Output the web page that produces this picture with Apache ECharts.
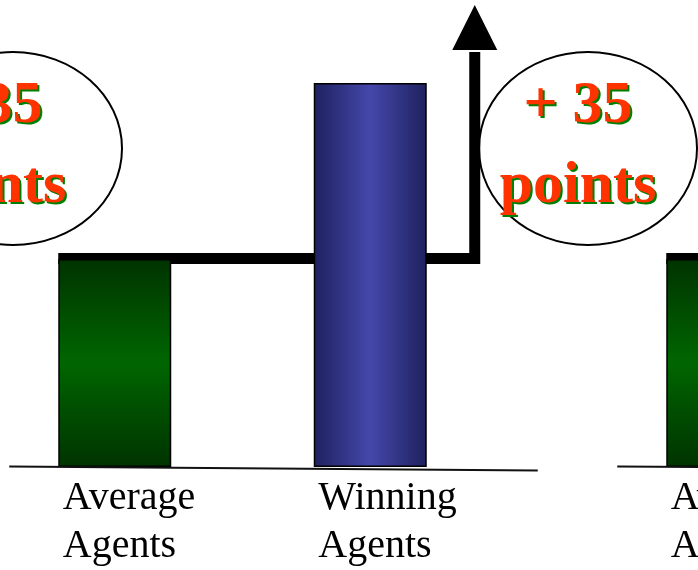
<!DOCTYPE html>
<html>
<head>
<meta charset="utf-8">
<script src="https://cdn.jsdelivr.net/npm/echarts@6/dist/echarts.min.js"></script>
<style>
html,body{margin:0;padding:0;background:#fff;}
#c{width:698px;height:570px;}
</style>
</head>
<body>
<div id="c"></div>
<script>
// ---- data ----
var categories = ['Average\nAgents', 'Winning\nAgents'];
var scores = [52, 96];            // bar heights (axis 0..100)
var calloutLines = ['+ 35', 'points'];

var chart = echarts.init(document.getElementById('c'), null, {renderer: 'canvas'});

var greenGrad = new echarts.graphic.LinearGradient(0, 0, 0, 1, [
  {offset: 0, color: '#003300'}, {offset: 0.5, color: '#006600'}, {offset: 1, color: '#003300'}
]);
var blueGrad = new echarts.graphic.LinearGradient(0, 0, 1, 0, [
  {offset: 0, color: '#1e215e'}, {offset: 0.5, color: '#4548aa'}, {offset: 1, color: '#1e215e'}
]);
var fills = [greenGrad, blueGrad];

function barData() {
  return scores.map(function (v, i) {
    return {value: v, itemStyle: {color: fills[i]}};
  });
}

var labelStyle = {
  show: true, position: 'bottom', distance: 7, align: 'left', offset: [-52, 0],
  formatter: '{b}', color: '#000', fontFamily: '"Liberation Serif", "Times New Roman", serif',
  fontSize: 40, lineHeight: 48
};

var grids = [
  {left: -13, width: 511, top: 67, height: 400, outerBoundsMode: 'none', containLabel: false},
  {left: 595, width: 511, top: 67, height: 400, outerBoundsMode: 'none', containLabel: false}
];

var option = {
  animation: false,
  backgroundColor: '#fff',
  grid: grids,
  xAxis: grids.map(function (g, i) {
    return {type: 'category', gridIndex: i, data: categories,
      axisLine: {show: false}, axisTick: {show: false}, axisLabel: {show: false}};
  }),
  yAxis: grids.map(function (g, i) {
    return {type: 'value', gridIndex: i, min: 0, max: 100, show: false, splitLine: {show: false}};
  }),
  series: grids.map(function (g, i) {
    return {type: 'bar', xAxisIndex: i, yAxisIndex: i, barWidth: 113, z: 5,
      itemStyle: {borderColor: '#000', borderWidth: 1.5},
      label: labelStyle, data: barData()};
  })
};
chart.setOption(option);

// ---- annotations derived from bar positions ----
var half = 56.5;
var gr = [];
function px(gi, idx, v) {
  return chart.convertToPixel({xAxisIndex: gi, yAxisIndex: gi}, [idx, v]);
}
for (var gi = 0; gi < 2; gi++) {
  var avg = px(gi, 0, scores[0]);
  var win = px(gi, 1, scores[1]);
  var base = px(gi, 0, 0);
  var lineY = avg[1] - 0.5;
  var shaftX = win[0] + half + 48;
  var headBase = win[1] - 33;
  var tip = win[1] - 78;
  gr.push({type: 'polyline', z: 1, silent: true,
    shape: {points: [[avg[0] - half, lineY], [shaftX, lineY], [shaftX, headBase + 2]]},
    style: {stroke: '#000', lineWidth: 11, fill: null, lineJoin: 'miter', lineCap: 'butt'}});
  gr.push({type: 'polygon', z: 1, silent: true,
    shape: {points: [[shaftX - 22.5, headBase], [shaftX, tip], [shaftX + 22.5, headBase]]},
    style: {fill: '#000'}});
  gr.push({type: 'line', z: 6, silent: true,
    shape: {x1: avg[0] - half - 49, y1: base[1] - 0.5, x2: win[0] + half + 111, y2: base[1] + 3.5},
    style: {stroke: '#111', lineWidth: 2}});
}

// callout ellipses with text
var callouts = [
  {cx: 13, cy: 148.5, tx: -12},
  {cx: 588, cy: 148.5, tx: 578}
];
var fontSpec = 'bold 60px "Liberation Serif", "Times New Roman", serif';
callouts.forEach(function (c) {
  gr.push({type: 'ellipse', z: 10, silent: true,
    shape: {cx: c.cx, cy: c.cy, rx: 109, ry: 96.5},
    style: {fill: 'rgba(255,255,255,0)', stroke: '#000', lineWidth: 2}});
  var ys = [106, 186];
  calloutLines.forEach(function (t, k) {
    gr.push({type: 'text', z: 11, silent: true, x: c.tx + 2, y: ys[k] + 2,
      style: {text: t, font: fontSpec, fill: '#008000', textAlign: 'center', verticalAlign: 'middle'}});
    gr.push({type: 'text', z: 12, silent: true, x: c.tx, y: ys[k],
      style: {text: t, font: fontSpec, fill: '#ff3300', textAlign: 'center', verticalAlign: 'middle'}});
  });
});
chart.setOption({graphic: gr});
</script>
</body>
</html>
